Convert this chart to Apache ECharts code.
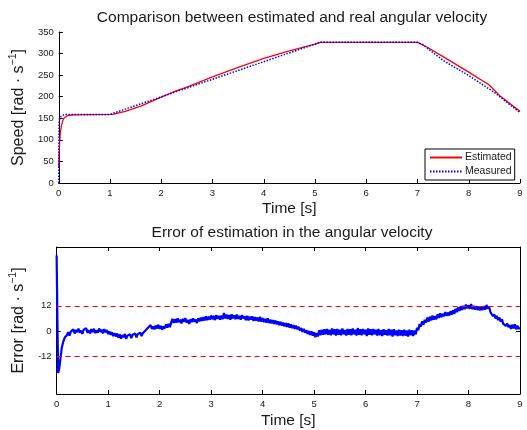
<!DOCTYPE html>
<html>
<head>
<meta charset="utf-8">
<script src="https://cdn.jsdelivr.net/npm/echarts@6/dist/echarts.min.js"></script>
<style>
  html, body { margin: 0; padding: 0; background: #fff; }
  #main { width: 527px; height: 430px; }
</style>
</head>
<body>
<div id="main"></div>
<script>
// x axis ticks (s)
var timeTicks = [0, 1, 2, 3, 4, 5, 6, 7, 8, 9];

// top plot: estimated speed (rad/s)
var estTime  = [0, 0.01, 0.03, 0.05, 0.08, 0.1, 0.15, 0.2, 0.3, 1.05, 1.3, 1.6, 2.0, 2.3, 2.5, 3.0, 3.5, 4.0, 4.5, 5.0, 5.1, 7.0, 7.2, 7.5, 8.0, 8.4, 8.6, 9.0];
var estSpeed = [35, 80, 115, 132, 145, 150, 155, 157, 158, 159, 166, 178, 199, 214, 222, 246, 268, 289, 306, 322, 326, 326, 314, 293, 257, 227, 203, 166];

// top plot: measured speed (rad/s)
var measTime  = [0, 0.005, 0.02, 0.05, 0.1, 0.15, 1.0, 5.1, 7.0, 7.1, 7.5, 8.0, 8.5, 9.0];
var measSpeed = [0, 140, 150, 155, 158, 159, 159, 326, 326, 321, 284, 249, 210, 163];

// bottom plot: error, start of the transient (explicit times)
var errHeadTime = [0, 0.01, 0.02, 0.03, 0.05, 0.08, 0.1, 0.13, 0.16, 0.18];
var errHead     = [36, 16, -4, -20, -18, -12, -8, -5, -3, -2.5];

// bottom plot: error sampled every 0.025 s from 0.2 s to 9 s
var errStart = 0.2, errStep = 0.025;
var errValues = [
  -2.0, -0.5, -2.2, -0.3, -1.0, 0.8, -1.2, 0.5, -0.6, 1.2, -0.8, 0.2, -1.4, 0.6, -0.2, 1.3, -0.9, 0.4, -1.1, 0.9,
  -0.5, 1.1, -1.0, 0.3, -0.8, 1.2, -0.4, 0.6, -1.1, 0.9, -0.6, 0.4, -1.5, -0.2, -1.8, -0.6, -2.4, -1.0, -2.6, -1.2,
  -3.2, -1.6, -3.6, -2.0, -3.0, -1.4, -3.8, -2.2, -2.8, -1.6, -3.4, -1.8, -2.6, -1.2, -3.0, -1.5, -2.2, -0.8, -2.4, -1.0,
  -1.2, 0.2, -0.2, 1.5, 0.6, 2.8, 1.0, 2.2, 0.8, 2.6, 1.2, 3.0, 1.0, 2.4, 0.6, 2.2, 1.2, 3.2, 1.6, 3.4,
  1.8, 4.0, 5.8, 3.8, 5.6, 4.0, 6.0, 4.2, 5.4, 3.6, 5.8, 4.4, 6.2, 4.0, 5.2, 3.4, 5.6, 4.2, 6.0, 4.4,
  5.4, 3.8, 6.0, 4.6, 6.4, 4.8, 6.6, 5.0, 7.0, 5.2, 6.8, 5.4, 7.4, 5.6, 7.2, 5.2, 7.6, 5.8, 7.2, 5.4,
  7.4, 5.6, 8.6, 6.0, 7.8, 5.8, 7.6, 5.4, 8.0, 6.0, 7.4, 5.6, 7.8, 5.8, 7.2, 5.4, 7.6, 6.0, 7.0, 5.2,
  7.2, 5.0, 6.8, 5.4, 7.0, 4.8, 6.6, 5.0, 6.4, 4.6, 6.8, 4.4, 6.2, 4.2, 5.8, 4.0, 6.0, 3.8, 5.4, 3.6,
  5.2, 3.4, 5.0, 3.2, 4.6, 2.8, 4.4, 2.6, 4.0, 2.2, 3.8, 2.0, 3.6, 1.6, 3.2, 1.4, 2.8, 1.0, 2.6, 0.8,
  2.0, 0.2, 1.4, -0.4, 1.0, -0.8, 0.4, -1.4, 0.0, -1.8, -0.2, -2.2, -0.6, -3.0, -1.0, -2.6, 0.4, -2.0, 0.6, -1.8,
  0.8, -1.6, 1.0, -1.8, 0.6, -2.0, 1.2, -1.6, 0.8, -2.2, 1.0, -1.8, 0.6, -2.0, 1.2, -1.6, 0.4, -2.2, 1.0, -1.8,
  0.8, -2.0, 1.2, -1.6, 0.6, -2.2, 1.4, -1.8, 0.8, -2.0, 1.0, -1.6, 0.6, -2.4, 1.2, -1.8, 0.8, -2.0, 1.0, -1.6,
  0.6, -2.2, 1.0, -2.0, 0.4, -2.4, 0.8, -1.8, 0.4, -2.2, 1.0, -2.0, 0.6, -2.6, 0.8, -2.0, 0.2, -2.4, 0.6, -2.2,
  0.4, -2.4, 0.6, -2.2, 0.2, -2.6, 0.6, -2.0, 0.4, -2.4, 0.2, -1.6, 1.6, 0.4, 3.4, 2.0, 4.6, 3.0, 5.4, 4.0,
  6.4, 4.4, 6.8, 5.0, 7.4, 5.4, 7.0, 5.6, 8.0, 6.2, 8.4, 6.6, 8.2, 7.0, 9.0, 7.2, 8.8, 7.4, 9.4, 7.8,
  9.8, 8.2, 10.6, 9.0, 11.2, 9.6, 11.8, 10.0, 12.0, 10.4, 12.6, 10.8, 12.2, 10.6, 12.8, 10.4, 12.0, 10.2, 11.8, 10.0,
  11.6, 9.8, 11.4, 10.0, 11.8, 10.2, 12.4, 10.6, 11.6, 9.0, 9.4, 7.0, 8.0, 6.0, 7.2, 5.2, 6.4, 4.4, 5.6, 3.4,
  4.2, 2.4, 3.6, 1.8, 2.8, 1.0, 3.0, 1.2, 3.2, 0.8, 2.6, 1.0, 1.6
];

// error band limits and labelled ticks
var errLimits = [12, -12];
var errTicks = [-12, 0, 12];

function pairs(xs, ys) {
  var out = [];
  for (var i = 0; i < xs.length; i++) out.push([xs[i], ys[i]]);
  return out;
}

var errData = pairs(errHeadTime, errHead);
for (var i = 0; i < errValues.length; i++) {
  errData.push([+(errStart + i * errStep).toFixed(3), errValues[i]]);
}

var FONT = 'Liberation Sans, Arial, sans-serif';
var TXT = '#1a1a1a';

var lineAxis = { show: true, onZero: false, lineStyle: { color: '#000', width: 1 } };
var tickIn = { show: true, inside: true, length: 4, lineStyle: { color: '#000' } };
var lbl = { color: TXT, fontSize: 9.5, fontFamily: FONT, margin: 5 };

function yName(word) {
  return '{a|' + word + ' [rad · s}{s|−1}{a|]}';
}
var nameRich = {
  a: { fontSize: 16, fontFamily: FONT, color: TXT, lineHeight: 19, verticalAlign: 'bottom' },
  s: { fontSize: 10.5, fontFamily: FONT, color: TXT, lineHeight: 19, verticalAlign: 'top' }
};

var myChart = echarts.init(document.getElementById('main'));
var option = {
  animation: false,
  backgroundColor: '#fff',
  title: [
    { text: 'Comparison between estimated and real angular velocity', left: 287, top: 5, textAlign: 'center',
      textStyle: { fontSize: 15.5, fontWeight: 'normal', color: TXT, fontFamily: FONT } },
    { text: 'Error of estimation in the angular velocity', left: 287, top: 220, textAlign: 'center',
      textStyle: { fontSize: 15.5, fontWeight: 'normal', color: TXT, fontFamily: FONT } }
  ],
  legend: {
    data: ['Estimated', 'Measured'],
    orient: 'vertical',
    left: 425, top: 149,
    itemWidth: 32, itemHeight: 10, itemGap: 3,
    padding: [3, 3, 3, 4],
    borderColor: '#000', borderWidth: 1, borderRadius: 0,
    backgroundColor: '#fff',
    itemStyle: { opacity: 0 },
    textStyle: { fontSize: 10.5, color: TXT, fontFamily: FONT, padding: [0, 0, 0, -2] }
  },
  grid: [
    { left: 55, right: 7, top: 32, height: 151 },
    { left: 55, right: 7, top: 247, height: 151 }
  ],
  xAxis: [
    { type: 'value', gridIndex: 0, min: 0, max: 9, interval: 1,
      axisLine: lineAxis, axisTick: tickIn, axisLabel: lbl, splitLine: { show: false },
      name: 'Time [s]', nameLocation: 'middle', nameGap: 18,
      nameTextStyle: { fontSize: 15.5, color: TXT, fontFamily: FONT } },
    { type: 'value', gridIndex: 1, min: 0, max: 9, interval: 1,
      axisLine: lineAxis, axisTick: tickIn, axisLabel: lbl, splitLine: { show: false },
      name: 'Time [s]', nameLocation: 'middle', nameGap: 19,
      nameTextStyle: { fontSize: 15.5, color: TXT, fontFamily: FONT } },
    { type: 'value', gridIndex: 1, position: 'top', min: 0, max: 9, interval: 1,
      axisLine: lineAxis, axisTick: tickIn, axisLabel: { show: false }, splitLine: { show: false } }
  ],
  yAxis: [
    { type: 'value', gridIndex: 0, min: 0, max: 350, interval: 50,
      axisLine: lineAxis, axisTick: tickIn, axisLabel: lbl, splitLine: { show: false },
      name: yName('Speed'), nameLocation: 'middle', nameGap: 25,
      nameTextStyle: { rich: nameRich } },
    { type: 'value', gridIndex: 1, min: -30, max: 40,
      axisLine: lineAxis,
      axisTick: { show: true, inside: true, length: 4, lineStyle: { color: '#000' }, customValues: errTicks },
      axisLabel: { color: TXT, fontSize: 9.5, fontFamily: FONT, margin: 5, customValues: errTicks },
      splitLine: { show: false },
      name: yName('Error'), nameLocation: 'middle', nameGap: 25,
      nameTextStyle: { rich: nameRich } },
    { type: 'value', gridIndex: 1, position: 'right', min: -30, max: 40,
      axisLine: lineAxis,
      axisTick: { show: true, inside: true, length: 4, lineStyle: { color: '#000' }, customValues: errTicks },
      axisLabel: { show: false }, splitLine: { show: false } }
  ],
  series: [
    { name: 'Estimated', type: 'line', xAxisIndex: 0, yAxisIndex: 0,
      data: pairs(estTime, estSpeed), showSymbol: false, symbol: 'none',
      lineStyle: { color: '#ff0000', width: 1.3 }, itemStyle: { color: '#ff0000' } },
    { name: 'Measured', type: 'line', xAxisIndex: 0, yAxisIndex: 0,
      data: pairs(measTime, measSpeed), showSymbol: false, symbol: 'none',
      lineStyle: { color: '#0000ff', width: 1.5, type: [1.5, 1.5] }, itemStyle: { color: '#0000ff' } },
    { name: 'Error', type: 'line', xAxisIndex: 1, yAxisIndex: 1,
      data: errData, showSymbol: false, symbol: 'none',
      lineStyle: { color: '#0000ff', width: 2.2 },
      markLine: {
        silent: true, symbol: 'none', label: { show: false },
        lineStyle: { color: '#ff0000', width: 1, type: [5, 4] },
        data: errLimits.map(function (v) { return { yAxis: v }; })
      } }
  ]
};
myChart.setOption(option);
</script>
</body>
</html>
